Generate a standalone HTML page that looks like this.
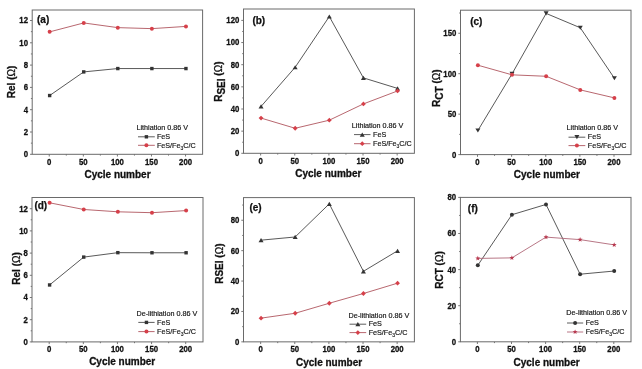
<!DOCTYPE html>
<html><head><meta charset="utf-8"><style>
html,body{margin:0;padding:0;background:#fff;}
body{width:642px;height:369px;overflow:hidden;}
svg{display:block;will-change:transform;filter:blur(0.4px);}
text{font-family:"Liberation Sans", sans-serif;fill:#111;}
.tk{font-size:7.8px;font-weight:bold;stroke:#111;stroke-width:0.25px;}
.at{font-size:10px;font-weight:bold;stroke:#111;stroke-width:0.3px;}
.pl{font-size:10px;font-weight:bold;stroke:#111;stroke-width:0.25px;}
.lg{font-size:7.2px;stroke:#222;stroke-width:0.18px;}
</style></head><body>
<svg width="642" height="369" viewBox="0 0 642 369">
<rect width="642" height="369" fill="#fff"/>
<line x1="49.25" y1="154.30" x2="49.25" y2="156.50" stroke="#6a6a6a" stroke-width="0.9"/>
<text transform="translate(49.25,164.60) scale(1,1.18)" text-anchor="middle" class="tk">0</text>
<line x1="83.33" y1="154.30" x2="83.33" y2="156.50" stroke="#6a6a6a" stroke-width="0.9"/>
<text transform="translate(83.33,164.60) scale(1,1.18)" text-anchor="middle" class="tk">50</text>
<line x1="117.40" y1="154.30" x2="117.40" y2="156.50" stroke="#6a6a6a" stroke-width="0.9"/>
<text transform="translate(117.40,164.60) scale(1,1.18)" text-anchor="middle" class="tk">100</text>
<line x1="151.47" y1="154.30" x2="151.47" y2="156.50" stroke="#6a6a6a" stroke-width="0.9"/>
<text transform="translate(151.47,164.60) scale(1,1.18)" text-anchor="middle" class="tk">150</text>
<line x1="185.55" y1="154.30" x2="185.55" y2="156.50" stroke="#6a6a6a" stroke-width="0.9"/>
<text transform="translate(185.55,164.60) scale(1,1.18)" text-anchor="middle" class="tk">200</text>
<line x1="66.29" y1="154.30" x2="66.29" y2="155.60" stroke="#6a6a6a" stroke-width="0.9"/>
<line x1="100.36" y1="154.30" x2="100.36" y2="155.60" stroke="#6a6a6a" stroke-width="0.9"/>
<line x1="134.44" y1="154.30" x2="134.44" y2="155.60" stroke="#6a6a6a" stroke-width="0.9"/>
<line x1="168.51" y1="154.30" x2="168.51" y2="155.60" stroke="#6a6a6a" stroke-width="0.9"/>
<line x1="30.00" y1="154.30" x2="32.20" y2="154.30" stroke="#6a6a6a" stroke-width="0.9"/>
<text transform="translate(28.00,157.20) scale(1,1.18)" text-anchor="end" class="tk">0</text>
<line x1="30.00" y1="132.00" x2="32.20" y2="132.00" stroke="#6a6a6a" stroke-width="0.9"/>
<text transform="translate(28.00,134.90) scale(1,1.18)" text-anchor="end" class="tk">2</text>
<line x1="30.00" y1="109.70" x2="32.20" y2="109.70" stroke="#6a6a6a" stroke-width="0.9"/>
<text transform="translate(28.00,112.60) scale(1,1.18)" text-anchor="end" class="tk">4</text>
<line x1="30.00" y1="87.40" x2="32.20" y2="87.40" stroke="#6a6a6a" stroke-width="0.9"/>
<text transform="translate(28.00,90.30) scale(1,1.18)" text-anchor="end" class="tk">6</text>
<line x1="30.00" y1="65.10" x2="32.20" y2="65.10" stroke="#6a6a6a" stroke-width="0.9"/>
<text transform="translate(28.00,68.00) scale(1,1.18)" text-anchor="end" class="tk">8</text>
<line x1="30.00" y1="42.80" x2="32.20" y2="42.80" stroke="#6a6a6a" stroke-width="0.9"/>
<text transform="translate(28.00,45.70) scale(1,1.18)" text-anchor="end" class="tk">10</text>
<line x1="30.00" y1="20.50" x2="32.20" y2="20.50" stroke="#6a6a6a" stroke-width="0.9"/>
<text transform="translate(28.00,23.40) scale(1,1.18)" text-anchor="end" class="tk">12</text>
<line x1="30.90" y1="143.15" x2="32.20" y2="143.15" stroke="#6a6a6a" stroke-width="0.9"/>
<line x1="30.90" y1="120.85" x2="32.20" y2="120.85" stroke="#6a6a6a" stroke-width="0.9"/>
<line x1="30.90" y1="98.55" x2="32.20" y2="98.55" stroke="#6a6a6a" stroke-width="0.9"/>
<line x1="30.90" y1="76.25" x2="32.20" y2="76.25" stroke="#6a6a6a" stroke-width="0.9"/>
<line x1="30.90" y1="53.95" x2="32.20" y2="53.95" stroke="#6a6a6a" stroke-width="0.9"/>
<line x1="30.90" y1="31.65" x2="32.20" y2="31.65" stroke="#6a6a6a" stroke-width="0.9"/>
<rect x="32.20" y="10.00" width="170.40" height="144.30" fill="none" stroke="#6a6a6a" stroke-width="1.0"/>
<polyline points="49.65,95.54 83.73,71.90 117.80,68.56 151.88,68.56 185.95,68.56" fill="none" stroke="#464646" stroke-width="0.9"/>
<polyline points="49.65,31.87 83.73,22.95 117.80,27.64 151.88,28.64 185.95,26.41" fill="none" stroke="#b0565f" stroke-width="0.9"/>
<rect x="47.95" y="93.84" width="3.40" height="3.40" fill="#333"/>
<rect x="82.03" y="70.20" width="3.40" height="3.40" fill="#333"/>
<rect x="116.10" y="66.86" width="3.40" height="3.40" fill="#333"/>
<rect x="150.18" y="66.86" width="3.40" height="3.40" fill="#333"/>
<rect x="184.25" y="66.86" width="3.40" height="3.40" fill="#333"/>
<circle cx="49.65" cy="31.87" r="2.00" fill="#d6404a"/>
<circle cx="83.73" cy="22.95" r="2.00" fill="#d6404a"/>
<circle cx="117.80" cy="27.64" r="2.00" fill="#d6404a"/>
<circle cx="151.88" cy="28.64" r="2.00" fill="#d6404a"/>
<circle cx="185.95" cy="26.41" r="2.00" fill="#d6404a"/>
<text x="37.00" y="22.90" class="pl">(a)</text>
<text x="136.50" y="129.70" class="lg">Lithiation 0.86 V</text>
<line x1="138.00" y1="136.80" x2="154.80" y2="136.80" stroke="#333" stroke-width="0.8"/>
<rect x="144.70" y="135.10" width="3.40" height="3.40" fill="#333"/>
<line x1="138.00" y1="145.30" x2="154.80" y2="145.30" stroke="#b0565f" stroke-width="0.9"/>
<circle cx="146.40" cy="145.30" r="2.00" fill="#d6404a"/>
<text x="156.90" y="139.00" class="lg">FeS</text>
<text x="156.90" y="147.50" class="lg">FeS/Fe<tspan font-size="5" dy="2.2">3</tspan><tspan dy="-2.2">C/C</tspan></text>
<text x="117.50" y="177.50" text-anchor="middle" class="at">Cycle number</text>
<text transform="translate(14.60,81.95) rotate(-90)" text-anchor="middle" class="at">Rel (<tspan font-weight="normal" stroke-width="0.25">Ω</tspan>)</text>
<line x1="260.65" y1="153.30" x2="260.65" y2="155.50" stroke="#6a6a6a" stroke-width="0.9"/>
<text transform="translate(260.65,163.60) scale(1,1.18)" text-anchor="middle" class="tk">0</text>
<line x1="294.77" y1="153.30" x2="294.77" y2="155.50" stroke="#6a6a6a" stroke-width="0.9"/>
<text transform="translate(294.77,163.60) scale(1,1.18)" text-anchor="middle" class="tk">50</text>
<line x1="328.90" y1="153.30" x2="328.90" y2="155.50" stroke="#6a6a6a" stroke-width="0.9"/>
<text transform="translate(328.90,163.60) scale(1,1.18)" text-anchor="middle" class="tk">100</text>
<line x1="363.02" y1="153.30" x2="363.02" y2="155.50" stroke="#6a6a6a" stroke-width="0.9"/>
<text transform="translate(363.02,163.60) scale(1,1.18)" text-anchor="middle" class="tk">150</text>
<line x1="397.15" y1="153.30" x2="397.15" y2="155.50" stroke="#6a6a6a" stroke-width="0.9"/>
<text transform="translate(397.15,163.60) scale(1,1.18)" text-anchor="middle" class="tk">200</text>
<line x1="277.71" y1="153.30" x2="277.71" y2="154.60" stroke="#6a6a6a" stroke-width="0.9"/>
<line x1="311.84" y1="153.30" x2="311.84" y2="154.60" stroke="#6a6a6a" stroke-width="0.9"/>
<line x1="345.96" y1="153.30" x2="345.96" y2="154.60" stroke="#6a6a6a" stroke-width="0.9"/>
<line x1="380.09" y1="153.30" x2="380.09" y2="154.60" stroke="#6a6a6a" stroke-width="0.9"/>
<line x1="241.30" y1="153.30" x2="243.50" y2="153.30" stroke="#6a6a6a" stroke-width="0.9"/>
<text transform="translate(239.30,156.20) scale(1,1.18)" text-anchor="end" class="tk">0</text>
<line x1="241.30" y1="131.15" x2="243.50" y2="131.15" stroke="#6a6a6a" stroke-width="0.9"/>
<text transform="translate(239.30,134.05) scale(1,1.18)" text-anchor="end" class="tk">20</text>
<line x1="241.30" y1="109.00" x2="243.50" y2="109.00" stroke="#6a6a6a" stroke-width="0.9"/>
<text transform="translate(239.30,111.90) scale(1,1.18)" text-anchor="end" class="tk">40</text>
<line x1="241.30" y1="86.85" x2="243.50" y2="86.85" stroke="#6a6a6a" stroke-width="0.9"/>
<text transform="translate(239.30,89.75) scale(1,1.18)" text-anchor="end" class="tk">60</text>
<line x1="241.30" y1="64.70" x2="243.50" y2="64.70" stroke="#6a6a6a" stroke-width="0.9"/>
<text transform="translate(239.30,67.60) scale(1,1.18)" text-anchor="end" class="tk">80</text>
<line x1="241.30" y1="42.55" x2="243.50" y2="42.55" stroke="#6a6a6a" stroke-width="0.9"/>
<text transform="translate(239.30,45.45) scale(1,1.18)" text-anchor="end" class="tk">100</text>
<line x1="241.30" y1="20.40" x2="243.50" y2="20.40" stroke="#6a6a6a" stroke-width="0.9"/>
<text transform="translate(239.30,23.30) scale(1,1.18)" text-anchor="end" class="tk">120</text>
<line x1="242.20" y1="142.23" x2="243.50" y2="142.23" stroke="#6a6a6a" stroke-width="0.9"/>
<line x1="242.20" y1="120.08" x2="243.50" y2="120.08" stroke="#6a6a6a" stroke-width="0.9"/>
<line x1="242.20" y1="97.93" x2="243.50" y2="97.93" stroke="#6a6a6a" stroke-width="0.9"/>
<line x1="242.20" y1="75.78" x2="243.50" y2="75.78" stroke="#6a6a6a" stroke-width="0.9"/>
<line x1="242.20" y1="53.63" x2="243.50" y2="53.63" stroke="#6a6a6a" stroke-width="0.9"/>
<line x1="242.20" y1="31.48" x2="243.50" y2="31.48" stroke="#6a6a6a" stroke-width="0.9"/>
<rect x="243.50" y="9.00" width="170.90" height="144.30" fill="none" stroke="#6a6a6a" stroke-width="1.0"/>
<polyline points="261.05,106.45 295.17,67.25 329.30,16.52 363.42,77.88 397.55,88.40" fill="none" stroke="#464646" stroke-width="0.9"/>
<polyline points="261.05,118.08 295.17,128.27 329.30,120.19 363.42,103.91 397.55,90.95" fill="none" stroke="#b0565f" stroke-width="0.9"/>
<path d="M261.05,104.35 L263.55,108.55 L258.55,108.55Z" fill="#333"/>
<path d="M295.17,65.15 L297.67,69.35 L292.67,69.35Z" fill="#333"/>
<path d="M329.30,14.42 L331.80,18.62 L326.80,18.62Z" fill="#333"/>
<path d="M363.42,75.78 L365.92,79.98 L360.92,79.98Z" fill="#333"/>
<path d="M397.55,86.30 L400.05,90.50 L395.05,90.50Z" fill="#333"/>
<path d="M261.05,115.68 L263.45,118.08 L261.05,120.48 L258.65,118.08Z" fill="#d6404a"/>
<path d="M295.17,125.87 L297.57,128.27 L295.17,130.67 L292.77,128.27Z" fill="#d6404a"/>
<path d="M329.30,117.79 L331.70,120.19 L329.30,122.59 L326.90,120.19Z" fill="#d6404a"/>
<path d="M363.42,101.51 L365.82,103.91 L363.42,106.31 L361.02,103.91Z" fill="#d6404a"/>
<path d="M397.55,88.55 L399.95,90.95 L397.55,93.35 L395.15,90.95Z" fill="#d6404a"/>
<text x="252.40" y="23.60" class="pl">(b)</text>
<text x="351.80" y="127.80" class="lg">Lithiation 0.86 V</text>
<line x1="354.00" y1="134.60" x2="370.50" y2="134.60" stroke="#333" stroke-width="0.8"/>
<path d="M362.25,132.50 L364.75,136.70 L359.75,136.70Z" fill="#333"/>
<line x1="354.00" y1="143.70" x2="370.50" y2="143.70" stroke="#b0565f" stroke-width="0.9"/>
<path d="M362.25,141.30 L364.65,143.70 L362.25,146.10 L359.85,143.70Z" fill="#d6404a"/>
<text x="373.00" y="136.80" class="lg">FeS</text>
<text x="373.00" y="145.90" class="lg">FeS/Fe<tspan font-size="5" dy="2.2">3</tspan><tspan dy="-2.2">C/C</tspan></text>
<text x="328.30" y="176.70" text-anchor="middle" class="at">Cycle number</text>
<text transform="translate(221.70,81.65) rotate(-90)" text-anchor="middle" class="at">R<tspan dy="3.6">SEI</tspan><tspan dy="-3.6"> </tspan>(<tspan font-weight="normal" stroke-width="0.25">Ω</tspan>)</text>
<line x1="477.50" y1="154.60" x2="477.50" y2="156.80" stroke="#6a6a6a" stroke-width="0.9"/>
<text transform="translate(477.50,164.90) scale(1,1.18)" text-anchor="middle" class="tk">0</text>
<line x1="511.62" y1="154.60" x2="511.62" y2="156.80" stroke="#6a6a6a" stroke-width="0.9"/>
<text transform="translate(511.62,164.90) scale(1,1.18)" text-anchor="middle" class="tk">50</text>
<line x1="545.75" y1="154.60" x2="545.75" y2="156.80" stroke="#6a6a6a" stroke-width="0.9"/>
<text transform="translate(545.75,164.90) scale(1,1.18)" text-anchor="middle" class="tk">100</text>
<line x1="579.88" y1="154.60" x2="579.88" y2="156.80" stroke="#6a6a6a" stroke-width="0.9"/>
<text transform="translate(579.88,164.90) scale(1,1.18)" text-anchor="middle" class="tk">150</text>
<line x1="614.00" y1="154.60" x2="614.00" y2="156.80" stroke="#6a6a6a" stroke-width="0.9"/>
<text transform="translate(614.00,164.90) scale(1,1.18)" text-anchor="middle" class="tk">200</text>
<line x1="494.56" y1="154.60" x2="494.56" y2="155.90" stroke="#6a6a6a" stroke-width="0.9"/>
<line x1="528.69" y1="154.60" x2="528.69" y2="155.90" stroke="#6a6a6a" stroke-width="0.9"/>
<line x1="562.81" y1="154.60" x2="562.81" y2="155.90" stroke="#6a6a6a" stroke-width="0.9"/>
<line x1="596.94" y1="154.60" x2="596.94" y2="155.90" stroke="#6a6a6a" stroke-width="0.9"/>
<line x1="458.30" y1="154.60" x2="460.50" y2="154.60" stroke="#6a6a6a" stroke-width="0.9"/>
<text transform="translate(456.30,157.50) scale(1,1.18)" text-anchor="end" class="tk">0</text>
<line x1="458.30" y1="114.15" x2="460.50" y2="114.15" stroke="#6a6a6a" stroke-width="0.9"/>
<text transform="translate(456.30,117.05) scale(1,1.18)" text-anchor="end" class="tk">50</text>
<line x1="458.30" y1="73.70" x2="460.50" y2="73.70" stroke="#6a6a6a" stroke-width="0.9"/>
<text transform="translate(456.30,76.60) scale(1,1.18)" text-anchor="end" class="tk">100</text>
<line x1="458.30" y1="33.25" x2="460.50" y2="33.25" stroke="#6a6a6a" stroke-width="0.9"/>
<text transform="translate(456.30,36.15) scale(1,1.18)" text-anchor="end" class="tk">150</text>
<line x1="459.20" y1="134.38" x2="460.50" y2="134.38" stroke="#6a6a6a" stroke-width="0.9"/>
<line x1="459.20" y1="93.92" x2="460.50" y2="93.92" stroke="#6a6a6a" stroke-width="0.9"/>
<line x1="459.20" y1="53.47" x2="460.50" y2="53.47" stroke="#6a6a6a" stroke-width="0.9"/>
<line x1="459.20" y1="13.02" x2="460.50" y2="13.02" stroke="#6a6a6a" stroke-width="0.9"/>
<rect x="460.50" y="10.20" width="170.50" height="144.40" fill="none" stroke="#6a6a6a" stroke-width="1.0"/>
<polyline points="477.90,130.49 512.02,73.86 546.15,13.43 580.27,27.75 614.40,78.23" fill="none" stroke="#464646" stroke-width="0.9"/>
<polyline points="477.90,65.21 512.02,74.83 546.15,76.29 580.27,89.88 614.40,97.89" fill="none" stroke="#b0565f" stroke-width="0.9"/>
<path d="M477.90,132.59 L480.40,128.39 L475.40,128.39Z" fill="#333"/>
<path d="M512.02,75.96 L514.52,71.76 L509.52,71.76Z" fill="#333"/>
<path d="M546.15,15.53 L548.65,11.33 L543.65,11.33Z" fill="#333"/>
<path d="M580.27,29.85 L582.77,25.65 L577.77,25.65Z" fill="#333"/>
<path d="M614.40,80.33 L616.90,76.13 L611.90,76.13Z" fill="#333"/>
<circle cx="477.90" cy="65.21" r="2.00" fill="#d6404a"/>
<circle cx="512.02" cy="74.83" r="2.00" fill="#d6404a"/>
<circle cx="546.15" cy="76.29" r="2.00" fill="#d6404a"/>
<circle cx="580.27" cy="89.88" r="2.00" fill="#d6404a"/>
<circle cx="614.40" cy="97.89" r="2.00" fill="#d6404a"/>
<text x="470.20" y="25.00" class="pl">(c)</text>
<text x="566.60" y="130.00" class="lg">Lithiation 0.86 V</text>
<line x1="568.50" y1="137.20" x2="585.30" y2="137.20" stroke="#333" stroke-width="0.8"/>
<path d="M576.90,139.30 L579.40,135.10 L574.40,135.10Z" fill="#333"/>
<line x1="568.50" y1="145.60" x2="585.30" y2="145.60" stroke="#b0565f" stroke-width="0.9"/>
<circle cx="576.90" cy="145.60" r="2.00" fill="#d6404a"/>
<text x="587.80" y="139.40" class="lg">FeS</text>
<text x="587.80" y="147.80" class="lg">FeS/Fe<tspan font-size="5" dy="2.2">3</tspan><tspan dy="-2.2">C/C</tspan></text>
<text x="546.90" y="178.30" text-anchor="middle" class="at">Cycle number</text>
<text transform="translate(439.50,88.20) rotate(-90)" text-anchor="middle" class="at">R<tspan dy="3.6">CT</tspan><tspan dy="-3.6"> </tspan>(<tspan font-weight="normal" stroke-width="0.25">Ω</tspan>)</text>
<line x1="49.20" y1="341.90" x2="49.20" y2="344.10" stroke="#6a6a6a" stroke-width="0.9"/>
<text transform="translate(49.20,352.20) scale(1,1.18)" text-anchor="middle" class="tk">0</text>
<line x1="83.33" y1="341.90" x2="83.33" y2="344.10" stroke="#6a6a6a" stroke-width="0.9"/>
<text transform="translate(83.33,352.20) scale(1,1.18)" text-anchor="middle" class="tk">50</text>
<line x1="117.45" y1="341.90" x2="117.45" y2="344.10" stroke="#6a6a6a" stroke-width="0.9"/>
<text transform="translate(117.45,352.20) scale(1,1.18)" text-anchor="middle" class="tk">100</text>
<line x1="151.57" y1="341.90" x2="151.57" y2="344.10" stroke="#6a6a6a" stroke-width="0.9"/>
<text transform="translate(151.57,352.20) scale(1,1.18)" text-anchor="middle" class="tk">150</text>
<line x1="185.70" y1="341.90" x2="185.70" y2="344.10" stroke="#6a6a6a" stroke-width="0.9"/>
<text transform="translate(185.70,352.20) scale(1,1.18)" text-anchor="middle" class="tk">200</text>
<line x1="66.26" y1="341.90" x2="66.26" y2="343.20" stroke="#6a6a6a" stroke-width="0.9"/>
<line x1="100.39" y1="341.90" x2="100.39" y2="343.20" stroke="#6a6a6a" stroke-width="0.9"/>
<line x1="134.51" y1="341.90" x2="134.51" y2="343.20" stroke="#6a6a6a" stroke-width="0.9"/>
<line x1="168.64" y1="341.90" x2="168.64" y2="343.20" stroke="#6a6a6a" stroke-width="0.9"/>
<line x1="29.80" y1="341.90" x2="32.00" y2="341.90" stroke="#6a6a6a" stroke-width="0.9"/>
<text transform="translate(27.80,344.80) scale(1,1.18)" text-anchor="end" class="tk">0</text>
<line x1="29.80" y1="319.70" x2="32.00" y2="319.70" stroke="#6a6a6a" stroke-width="0.9"/>
<text transform="translate(27.80,322.60) scale(1,1.18)" text-anchor="end" class="tk">2</text>
<line x1="29.80" y1="297.50" x2="32.00" y2="297.50" stroke="#6a6a6a" stroke-width="0.9"/>
<text transform="translate(27.80,300.40) scale(1,1.18)" text-anchor="end" class="tk">4</text>
<line x1="29.80" y1="275.30" x2="32.00" y2="275.30" stroke="#6a6a6a" stroke-width="0.9"/>
<text transform="translate(27.80,278.20) scale(1,1.18)" text-anchor="end" class="tk">6</text>
<line x1="29.80" y1="253.10" x2="32.00" y2="253.10" stroke="#6a6a6a" stroke-width="0.9"/>
<text transform="translate(27.80,256.00) scale(1,1.18)" text-anchor="end" class="tk">8</text>
<line x1="29.80" y1="230.90" x2="32.00" y2="230.90" stroke="#6a6a6a" stroke-width="0.9"/>
<text transform="translate(27.80,233.80) scale(1,1.18)" text-anchor="end" class="tk">10</text>
<line x1="29.80" y1="208.70" x2="32.00" y2="208.70" stroke="#6a6a6a" stroke-width="0.9"/>
<text transform="translate(27.80,211.60) scale(1,1.18)" text-anchor="end" class="tk">12</text>
<line x1="30.70" y1="330.80" x2="32.00" y2="330.80" stroke="#6a6a6a" stroke-width="0.9"/>
<line x1="30.70" y1="308.60" x2="32.00" y2="308.60" stroke="#6a6a6a" stroke-width="0.9"/>
<line x1="30.70" y1="286.40" x2="32.00" y2="286.40" stroke="#6a6a6a" stroke-width="0.9"/>
<line x1="30.70" y1="264.20" x2="32.00" y2="264.20" stroke="#6a6a6a" stroke-width="0.9"/>
<line x1="30.70" y1="242.00" x2="32.00" y2="242.00" stroke="#6a6a6a" stroke-width="0.9"/>
<line x1="30.70" y1="219.80" x2="32.00" y2="219.80" stroke="#6a6a6a" stroke-width="0.9"/>
<rect x="32.00" y="197.50" width="171.00" height="144.40" fill="none" stroke="#6a6a6a" stroke-width="1.0"/>
<polyline points="49.60,284.96 83.73,257.10 117.85,252.66 151.97,252.77 186.10,252.77" fill="none" stroke="#464646" stroke-width="0.9"/>
<polyline points="49.60,202.82 83.73,209.48 117.85,211.81 151.97,212.70 186.10,210.59" fill="none" stroke="#b0565f" stroke-width="0.9"/>
<rect x="47.90" y="283.26" width="3.40" height="3.40" fill="#333"/>
<rect x="82.03" y="255.40" width="3.40" height="3.40" fill="#333"/>
<rect x="116.15" y="250.96" width="3.40" height="3.40" fill="#333"/>
<rect x="150.28" y="251.07" width="3.40" height="3.40" fill="#333"/>
<rect x="184.40" y="251.07" width="3.40" height="3.40" fill="#333"/>
<circle cx="49.60" cy="202.82" r="2.00" fill="#d6404a"/>
<circle cx="83.73" cy="209.48" r="2.00" fill="#d6404a"/>
<circle cx="117.85" cy="211.81" r="2.00" fill="#d6404a"/>
<circle cx="151.97" cy="212.70" r="2.00" fill="#d6404a"/>
<circle cx="186.10" cy="210.59" r="2.00" fill="#d6404a"/>
<text x="34.40" y="208.90" class="pl">(d)</text>
<text x="136.50" y="315.70" class="lg">De-lithiation 0.86 V</text>
<line x1="138.30" y1="322.40" x2="154.60" y2="322.40" stroke="#333" stroke-width="0.8"/>
<rect x="144.75" y="320.70" width="3.40" height="3.40" fill="#333"/>
<line x1="138.30" y1="331.60" x2="154.60" y2="331.60" stroke="#b0565f" stroke-width="0.9"/>
<circle cx="146.45" cy="331.60" r="2.00" fill="#d6404a"/>
<text x="157.10" y="324.60" class="lg">FeS</text>
<text x="157.10" y="333.80" class="lg">FeS/Fe<tspan font-size="5" dy="2.2">3</tspan><tspan dy="-2.2">C/C</tspan></text>
<text x="122.20" y="365.00" text-anchor="middle" class="at">Cycle number</text>
<text transform="translate(20.00,268.45) rotate(-90)" text-anchor="middle" class="at">Rel (<tspan font-weight="normal" stroke-width="0.25">Ω</tspan>)</text>
<line x1="260.65" y1="341.85" x2="260.65" y2="344.05" stroke="#6a6a6a" stroke-width="0.9"/>
<text transform="translate(260.65,352.15) scale(1,1.18)" text-anchor="middle" class="tk">0</text>
<line x1="294.77" y1="341.85" x2="294.77" y2="344.05" stroke="#6a6a6a" stroke-width="0.9"/>
<text transform="translate(294.77,352.15) scale(1,1.18)" text-anchor="middle" class="tk">50</text>
<line x1="328.90" y1="341.85" x2="328.90" y2="344.05" stroke="#6a6a6a" stroke-width="0.9"/>
<text transform="translate(328.90,352.15) scale(1,1.18)" text-anchor="middle" class="tk">100</text>
<line x1="363.02" y1="341.85" x2="363.02" y2="344.05" stroke="#6a6a6a" stroke-width="0.9"/>
<text transform="translate(363.02,352.15) scale(1,1.18)" text-anchor="middle" class="tk">150</text>
<line x1="397.15" y1="341.85" x2="397.15" y2="344.05" stroke="#6a6a6a" stroke-width="0.9"/>
<text transform="translate(397.15,352.15) scale(1,1.18)" text-anchor="middle" class="tk">200</text>
<line x1="277.71" y1="341.85" x2="277.71" y2="343.15" stroke="#6a6a6a" stroke-width="0.9"/>
<line x1="311.84" y1="341.85" x2="311.84" y2="343.15" stroke="#6a6a6a" stroke-width="0.9"/>
<line x1="345.96" y1="341.85" x2="345.96" y2="343.15" stroke="#6a6a6a" stroke-width="0.9"/>
<line x1="380.09" y1="341.85" x2="380.09" y2="343.15" stroke="#6a6a6a" stroke-width="0.9"/>
<line x1="241.30" y1="341.85" x2="243.50" y2="341.85" stroke="#6a6a6a" stroke-width="0.9"/>
<text transform="translate(239.30,344.75) scale(1,1.18)" text-anchor="end" class="tk">0</text>
<line x1="241.30" y1="311.45" x2="243.50" y2="311.45" stroke="#6a6a6a" stroke-width="0.9"/>
<text transform="translate(239.30,314.35) scale(1,1.18)" text-anchor="end" class="tk">20</text>
<line x1="241.30" y1="281.05" x2="243.50" y2="281.05" stroke="#6a6a6a" stroke-width="0.9"/>
<text transform="translate(239.30,283.95) scale(1,1.18)" text-anchor="end" class="tk">40</text>
<line x1="241.30" y1="250.65" x2="243.50" y2="250.65" stroke="#6a6a6a" stroke-width="0.9"/>
<text transform="translate(239.30,253.55) scale(1,1.18)" text-anchor="end" class="tk">60</text>
<line x1="241.30" y1="220.25" x2="243.50" y2="220.25" stroke="#6a6a6a" stroke-width="0.9"/>
<text transform="translate(239.30,223.15) scale(1,1.18)" text-anchor="end" class="tk">80</text>
<line x1="242.20" y1="326.65" x2="243.50" y2="326.65" stroke="#6a6a6a" stroke-width="0.9"/>
<line x1="242.20" y1="296.25" x2="243.50" y2="296.25" stroke="#6a6a6a" stroke-width="0.9"/>
<line x1="242.20" y1="265.85" x2="243.50" y2="265.85" stroke="#6a6a6a" stroke-width="0.9"/>
<line x1="242.20" y1="235.45" x2="243.50" y2="235.45" stroke="#6a6a6a" stroke-width="0.9"/>
<line x1="242.20" y1="205.05" x2="243.50" y2="205.05" stroke="#6a6a6a" stroke-width="0.9"/>
<rect x="243.50" y="197.60" width="170.90" height="144.25" fill="none" stroke="#6a6a6a" stroke-width="1.0"/>
<polyline points="261.05,240.16 295.17,236.97 329.30,203.83 363.42,271.32 397.55,250.80" fill="none" stroke="#464646" stroke-width="0.9"/>
<polyline points="261.05,318.14 295.17,313.27 329.30,303.24 363.42,293.51 397.55,283.18" fill="none" stroke="#b0565f" stroke-width="0.9"/>
<path d="M261.05,238.06 L263.55,242.26 L258.55,242.26Z" fill="#333"/>
<path d="M295.17,234.87 L297.67,239.07 L292.67,239.07Z" fill="#333"/>
<path d="M329.30,201.73 L331.80,205.93 L326.80,205.93Z" fill="#333"/>
<path d="M363.42,269.22 L365.92,273.42 L360.92,273.42Z" fill="#333"/>
<path d="M397.55,248.70 L400.05,252.90 L395.05,252.90Z" fill="#333"/>
<path d="M261.05,315.74 L263.45,318.14 L261.05,320.54 L258.65,318.14Z" fill="#d6404a"/>
<path d="M295.17,310.87 L297.57,313.27 L295.17,315.67 L292.77,313.27Z" fill="#d6404a"/>
<path d="M329.30,300.84 L331.70,303.24 L329.30,305.64 L326.90,303.24Z" fill="#d6404a"/>
<path d="M363.42,291.11 L365.82,293.51 L363.42,295.91 L361.02,293.51Z" fill="#d6404a"/>
<path d="M397.55,280.78 L399.95,283.18 L397.55,285.58 L395.15,283.18Z" fill="#d6404a"/>
<text x="249.40" y="211.30" class="pl">(e)</text>
<text x="348.50" y="318.20" class="lg">De-lithiation 0.86 V</text>
<line x1="349.50" y1="324.20" x2="366.20" y2="324.20" stroke="#333" stroke-width="0.8"/>
<path d="M357.85,322.10 L360.35,326.30 L355.35,326.30Z" fill="#333"/>
<line x1="349.50" y1="332.60" x2="366.20" y2="332.60" stroke="#b0565f" stroke-width="0.9"/>
<path d="M357.85,330.20 L360.25,332.60 L357.85,335.00 L355.45,332.60Z" fill="#d6404a"/>
<text x="368.70" y="326.40" class="lg">FeS</text>
<text x="368.70" y="334.80" class="lg">FeS/Fe<tspan font-size="5" dy="2.2">3</tspan><tspan dy="-2.2">C/C</tspan></text>
<text x="329.10" y="365.70" text-anchor="middle" class="at">Cycle number</text>
<text transform="translate(223.20,263.65) rotate(-90)" text-anchor="middle" class="at">RSEI (<tspan font-weight="normal" stroke-width="0.25">Ω</tspan>)</text>
<line x1="477.40" y1="341.80" x2="477.40" y2="344.00" stroke="#6a6a6a" stroke-width="0.9"/>
<text transform="translate(477.40,352.10) scale(1,1.18)" text-anchor="middle" class="tk">0</text>
<line x1="511.50" y1="341.80" x2="511.50" y2="344.00" stroke="#6a6a6a" stroke-width="0.9"/>
<text transform="translate(511.50,352.10) scale(1,1.18)" text-anchor="middle" class="tk">50</text>
<line x1="545.60" y1="341.80" x2="545.60" y2="344.00" stroke="#6a6a6a" stroke-width="0.9"/>
<text transform="translate(545.60,352.10) scale(1,1.18)" text-anchor="middle" class="tk">100</text>
<line x1="579.70" y1="341.80" x2="579.70" y2="344.00" stroke="#6a6a6a" stroke-width="0.9"/>
<text transform="translate(579.70,352.10) scale(1,1.18)" text-anchor="middle" class="tk">150</text>
<line x1="613.80" y1="341.80" x2="613.80" y2="344.00" stroke="#6a6a6a" stroke-width="0.9"/>
<text transform="translate(613.80,352.10) scale(1,1.18)" text-anchor="middle" class="tk">200</text>
<line x1="494.45" y1="341.80" x2="494.45" y2="343.10" stroke="#6a6a6a" stroke-width="0.9"/>
<line x1="528.55" y1="341.80" x2="528.55" y2="343.10" stroke="#6a6a6a" stroke-width="0.9"/>
<line x1="562.65" y1="341.80" x2="562.65" y2="343.10" stroke="#6a6a6a" stroke-width="0.9"/>
<line x1="596.75" y1="341.80" x2="596.75" y2="343.10" stroke="#6a6a6a" stroke-width="0.9"/>
<line x1="458.20" y1="341.80" x2="460.40" y2="341.80" stroke="#6a6a6a" stroke-width="0.9"/>
<text transform="translate(456.20,344.70) scale(1,1.18)" text-anchor="end" class="tk">0</text>
<line x1="458.20" y1="305.70" x2="460.40" y2="305.70" stroke="#6a6a6a" stroke-width="0.9"/>
<text transform="translate(456.20,308.60) scale(1,1.18)" text-anchor="end" class="tk">20</text>
<line x1="458.20" y1="269.60" x2="460.40" y2="269.60" stroke="#6a6a6a" stroke-width="0.9"/>
<text transform="translate(456.20,272.50) scale(1,1.18)" text-anchor="end" class="tk">40</text>
<line x1="458.20" y1="233.50" x2="460.40" y2="233.50" stroke="#6a6a6a" stroke-width="0.9"/>
<text transform="translate(456.20,236.40) scale(1,1.18)" text-anchor="end" class="tk">60</text>
<line x1="458.20" y1="197.40" x2="460.40" y2="197.40" stroke="#6a6a6a" stroke-width="0.9"/>
<text transform="translate(456.20,200.30) scale(1,1.18)" text-anchor="end" class="tk">80</text>
<line x1="459.10" y1="323.75" x2="460.40" y2="323.75" stroke="#6a6a6a" stroke-width="0.9"/>
<line x1="459.10" y1="287.65" x2="460.40" y2="287.65" stroke="#6a6a6a" stroke-width="0.9"/>
<line x1="459.10" y1="251.55" x2="460.40" y2="251.55" stroke="#6a6a6a" stroke-width="0.9"/>
<line x1="459.10" y1="215.45" x2="460.40" y2="215.45" stroke="#6a6a6a" stroke-width="0.9"/>
<rect x="460.40" y="197.40" width="170.60" height="144.40" fill="none" stroke="#6a6a6a" stroke-width="1.0"/>
<polyline points="477.80,265.27 511.90,214.73 546.00,204.44 580.10,274.20 614.20,271.04" fill="none" stroke="#464646" stroke-width="0.9"/>
<polyline points="477.80,258.41 511.90,257.87 546.00,237.11 580.10,239.64 614.20,244.87" fill="none" stroke="#b06878" stroke-width="0.9"/>
<circle cx="477.80" cy="265.27" r="2.00" fill="#333"/>
<circle cx="511.90" cy="214.73" r="2.00" fill="#333"/>
<circle cx="546.00" cy="204.44" r="2.00" fill="#333"/>
<circle cx="580.10" cy="274.20" r="2.00" fill="#333"/>
<circle cx="614.20" cy="271.04" r="2.00" fill="#333"/>
<polygon points="477.80,255.81 478.45,257.52 480.27,257.61 478.85,258.75 479.33,260.51 477.80,259.51 476.27,260.51 476.75,258.75 475.33,257.61 477.15,257.52" fill="#b83a50"/>
<polygon points="511.90,255.27 512.55,256.98 514.37,257.06 512.95,258.21 513.43,259.97 511.90,258.97 510.37,259.97 510.85,258.21 509.43,257.06 511.25,256.98" fill="#b83a50"/>
<polygon points="546.00,234.51 546.65,236.22 548.47,236.31 547.05,237.45 547.53,239.21 546.00,238.21 544.47,239.21 544.95,237.45 543.53,236.31 545.35,236.22" fill="#b83a50"/>
<polygon points="580.10,237.04 580.75,238.75 582.57,238.83 581.15,239.98 581.63,241.74 580.10,240.74 578.57,241.74 579.05,239.98 577.63,238.83 579.45,238.75" fill="#b83a50"/>
<polygon points="614.20,242.27 614.85,243.98 616.67,244.07 615.25,245.21 615.73,246.97 614.20,245.97 612.67,246.97 613.15,245.21 611.73,244.07 613.55,243.98" fill="#b83a50"/>
<text x="467.80" y="212.40" class="pl">(f)</text>
<text x="566.30" y="315.10" class="lg">De-lithiation 0.86 V</text>
<line x1="567.00" y1="323.00" x2="583.20" y2="323.00" stroke="#333" stroke-width="0.8"/>
<circle cx="575.10" cy="323.00" r="2.00" fill="#333"/>
<line x1="567.00" y1="332.00" x2="583.20" y2="332.00" stroke="#b06878" stroke-width="0.9"/>
<polygon points="575.10,329.40 575.75,331.11 577.57,331.20 576.15,332.34 576.63,334.10 575.10,333.10 573.57,334.10 574.05,332.34 572.63,331.20 574.45,331.11" fill="#b83a50"/>
<text x="585.70" y="325.20" class="lg">FeS</text>
<text x="585.70" y="334.20" class="lg">FeS/Fe<tspan font-size="5" dy="2.2">3</tspan><tspan dy="-2.2">C/C</tspan></text>
<text x="546.60" y="365.70" text-anchor="middle" class="at">Cycle number</text>
<text transform="translate(443.00,270.00) rotate(-90)" text-anchor="middle" class="at">RCT (<tspan font-weight="normal" stroke-width="0.25">Ω</tspan>)</text>
</svg>
</body></html>
